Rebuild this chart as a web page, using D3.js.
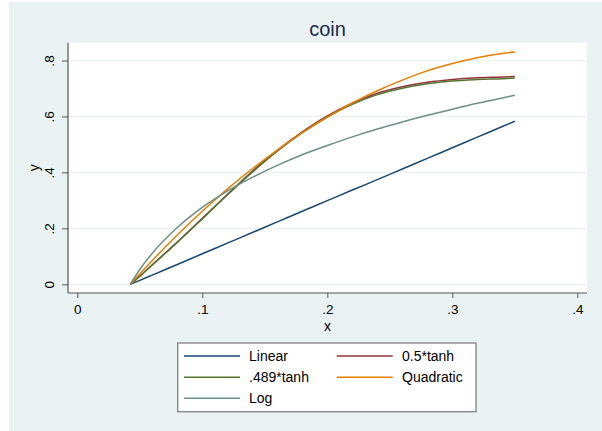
<!DOCTYPE html>
<html>
<head>
<meta charset="utf-8">
<script src="https://cdn.jsdelivr.net/npm/d3@7"></script>
<style>
  html, body { margin: 0; padding: 0; background: #ffffff; }
  svg { display: block; }
  text { font-family: "Liberation Sans", Arial, Helvetica, sans-serif; }
</style>
</head>
<body>
<div id="chart"></div>
<script>
// ---- Data ----
const xValues   = [0.0424, 0.05, 0.06, 0.08, 0.10, 0.12, 0.14, 0.16, 0.18, 0.20, 0.22, 0.24, 0.26, 0.28, 0.30, 0.32, 0.34, 0.35];
const linear    = [0, 0.014, 0.033, 0.071, 0.109, 0.147, 0.185, 0.223, 0.261, 0.299, 0.337, 0.374, 0.412, 0.450, 0.488, 0.526, 0.564, 0.583];
const tanh05    = [0, 0.029, 0.070, 0.151, 0.236, 0.321, 0.404, 0.479, 0.545, 0.602, 0.647, 0.683, 0.706, 0.722, 0.732, 0.738, 0.741, 0.743];
const tanh489   = [0, 0.029, 0.069, 0.150, 0.234, 0.319, 0.401, 0.476, 0.542, 0.598, 0.643, 0.678, 0.701, 0.717, 0.727, 0.732, 0.735, 0.737];
const quadratic = [0, 0.037, 0.085, 0.176, 0.261, 0.340, 0.413, 0.480, 0.542, 0.598, 0.648, 0.692, 0.730, 0.763, 0.789, 0.810, 0.825, 0.830];
const logCurve  = [0, 0.053, 0.111, 0.203, 0.275, 0.333, 0.382, 0.425, 0.463, 0.496, 0.527, 0.555, 0.580, 0.604, 0.626, 0.647, 0.666, 0.676];

const seriesNames  = ["Linear", "0.5*tanh", ".489*tanh", "Quadratic", "Log"];
const seriesColors = ["#1a476f", "#90353b", "#55752f", "#e37e00", "#6e8e84"];
const xTicks = [0, 0.1, 0.2, 0.3, 0.4];
const xTickLabels = ["0", ".1", ".2", ".3", ".4"];
const yTicks = [0, 0.2, 0.4, 0.6, 0.8];
const yTickLabels = ["0", ".2", ".4", ".6", ".8"];
const titleText = "coin";
const xTitle = "x";
const yTitle = "y";

const seriesValues = [linear, tanh05, tanh489, quadratic, logCurve];

// ---- Layout ----
const W = 602, H = 431;
const plot = { left: 68, right: 587, top: 42.7, bottom: 293 };

const svg = d3.select("#chart").append("svg")
  .attr("width", W).attr("height", H);

// graph region background
svg.append("rect")
  .attr("x", 9).attr("y", 2).attr("width", W - 9).attr("height", H - 2)
  .attr("fill", "#eaf2f3");

// plot region
svg.append("rect")
  .attr("x", plot.left).attr("y", plot.top)
  .attr("width", plot.right - plot.left).attr("height", plot.bottom - plot.top)
  .attr("fill", "#ffffff");

const x = d3.scaleLinear().domain([0, 0.4]).range([77.3, 577.3]);
const y = d3.scaleLinear().domain([0, 0.8]).range([284.3, 60.5]);

// gridlines
svg.append("g").selectAll("line").data(yTicks).join("line")
  .attr("x1", plot.left).attr("x2", plot.right)
  .attr("y1", d => y(d)).attr("y2", d => y(d))
  .attr("stroke", "#eaf2f3").attr("stroke-width", 1.2);

// x axis
const xAxis = d3.axisBottom(x).tickValues(xTicks)
  .tickFormat((d, i) => xTickLabels[i]).tickSizeOuter(0).tickSize(5).tickPadding(6.5);
const gx = svg.append("g").attr("transform", `translate(0,${plot.bottom})`).call(xAxis);
gx.select(".domain").attr("d", `M${plot.left},0H${plot.right}`).attr("stroke", "#555").attr("stroke-width", 1.2);
gx.selectAll(".tick line").attr("stroke", "#555");
gx.selectAll(".tick text").attr("font-size", 13.5).attr("fill", "#000")
  .attr("font-family", "Liberation Sans, Arial, sans-serif");

// y axis
const yAxis = d3.axisLeft(y).tickValues(yTicks)
  .tickFormat((d, i) => yTickLabels[i]).tickSizeOuter(0).tickSize(6).tickPadding(0);
const gy = svg.append("g").attr("transform", `translate(${plot.left},0)`).call(yAxis);
gy.select(".domain").attr("d", `M0,${plot.top}V${plot.bottom}`).attr("stroke", "#555").attr("stroke-width", 1.2);
gy.selectAll(".tick line").attr("stroke", "#555");
gy.selectAll(".tick text")
  .attr("font-size", 13.5).attr("fill", "#000")
  .attr("font-family", "Liberation Sans, Arial, sans-serif")
  .attr("text-anchor", "middle")
  .attr("x", null)
  .attr("transform", "translate(-18.3,0) rotate(-90)")
  .attr("dy", "0.35em");

// axis titles
svg.append("text").attr("x", (plot.left + plot.right) / 2).attr("y", 331)
  .attr("text-anchor", "middle").attr("font-size", 14).attr("fill", "#000").text(xTitle);
svg.append("text")
  .attr("transform", `translate(39,${(plot.top + plot.bottom) / 2}) rotate(-90)`)
  .attr("text-anchor", "middle").attr("font-size", 14).attr("fill", "#000").text(yTitle);

// title
svg.append("text").attr("x", (plot.left + plot.right) / 2).attr("y", 36)
  .attr("text-anchor", "middle").attr("font-size", 20).attr("fill", "#1a2a4f").text(titleText);

// lines
const line = d3.line().x(d => x(d[0])).y(d => y(d[1])).curve(d3.curveMonotoneX);
seriesValues.forEach((vals, i) => {
  const pts = xValues.map((xv, j) => [xv, vals[j]]);
  svg.append("path").datum(pts)
    .attr("d", line)
    .attr("fill", "none")
    .attr("stroke", seriesColors[i])
    .attr("stroke-width", 1.5);
});

// legend
const lg = svg.append("g");
lg.append("rect").attr("x", 177.7).attr("y", 343).attr("width", 298.3).attr("height", 68.7)
  .attr("fill", "#ffffff").attr("stroke", "#808080").attr("stroke-width", 1.3);
const legendPos = [
  { lx: 184, tx: 249, cy: 356 },
  { lx: 336.7, tx: 402, cy: 356 },
  { lx: 184, tx: 249, cy: 377.3 },
  { lx: 336.7, tx: 402, cy: 377.3 },
  { lx: 184, tx: 249, cy: 398.3 }
];
seriesNames.forEach((name, i) => {
  const p = legendPos[i];
  lg.append("line").attr("x1", p.lx).attr("x2", p.lx + 56)
    .attr("y1", p.cy).attr("y2", p.cy)
    .attr("stroke", seriesColors[i]).attr("stroke-width", 1.5);
  lg.append("text").attr("x", p.tx).attr("y", p.cy).attr("dy", "0.36em")
    .attr("font-size", 14).attr("fill", "#000").text(name);
});
</script>
</body>
</html>
